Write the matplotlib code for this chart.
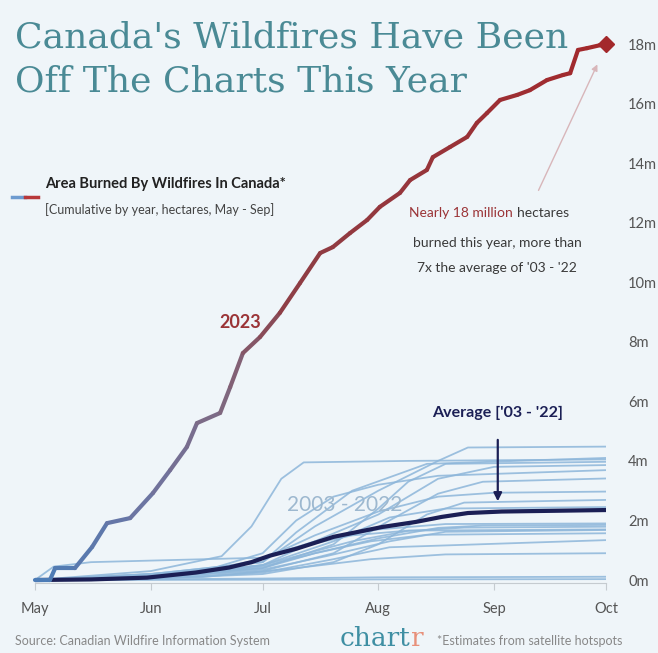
import numpy as np
import matplotlib.pyplot as plt
from matplotlib.collections import LineCollection
from matplotlib.colors import LinearSegmentedColormap

# days since May 1 (Jun 1 = 31, Jul 1 = 61, Aug 1 = 92, Sep 1 = 123, Oct 1 = 153)
month_days = [0, 31, 61, 92, 123, 153]
month_labels = ["May", "Jun", "Jul", "Aug", "Sep", "Oct"]
y_ticks = [0, 2, 4, 6, 8, 10, 12, 14, 16, 18]
y_labels = ["0m", "2m", "4m", "6m", "8m", "10m", "12m", "14m", "16m", "18m"]

# 2023 cumulative area burned (million ha)
days_2023 = [0, 4, 5.4, 10.7, 15.3, 19.3, 25.5, 31.6, 36.2, 40.7, 43.4, 49.6, 52.3, 55.7,
             60.3, 65.6, 71.0, 76.4, 79.8, 84.4, 89.0, 92.4, 97.8, 100.5, 105.0, 106.6,
             111.2, 115.8, 118.4, 121.1, 124.6, 129.2, 132.6, 137.2, 141.5, 143.4, 145.5,
             147.9, 151.4, 153]
vals_2023 = [0, 0, 0.40, 0.40, 1.11, 1.91, 2.08, 2.92, 3.69, 4.47, 5.27, 5.61, 6.48, 7.62,
             8.16, 8.97, 9.97, 10.98, 11.18, 11.65, 12.09, 12.53, 13.0, 13.43, 13.77, 14.20,
             14.54, 14.88, 15.35, 15.68, 16.12, 16.29, 16.45, 16.79, 16.96, 17.02, 17.80,
             17.86, 17.96, 18.0]

# average 2003-2022
days_avg = [0, 15, 30, 43, 52, 58, 63, 70, 80, 93, 102, 109, 116, 125, 153]
vals_avg = [0, 0.02, 0.08, 0.25, 0.42, 0.6, 0.82, 1.05, 1.45, 1.78, 1.95, 2.12, 2.25, 2.3, 2.35]

# individual years 2003-2022 (rough traces)
years_days = [
    [0, 31, 61, 75, 92, 108, 116, 153],
    [0, 31, 50, 58, 66, 72, 100, 153],
    [0, 31, 61, 80, 92, 100, 110, 153],
    [0, 31, 61, 75, 92, 108, 123, 153],
    [0, 45, 61, 70, 80, 92, 108, 153],
    [0, 31, 61, 80, 95, 108, 120, 153],
    [0, 40, 61, 75, 92, 108, 123, 153],
    [0, 31, 61, 80, 92, 105, 115, 153],
    [0, 5, 15, 61, 75, 92, 110, 153],
    [0, 31, 61, 75, 92, 108, 120, 153],
    [0, 45, 61, 85, 100, 115, 153],
    [0, 31, 55, 70, 85, 100, 153],
    [0, 31, 61, 78, 95, 110, 153],
    [0, 40, 61, 75, 90, 105, 153],
    [0, 31, 61, 80, 95, 153],
    [0, 45, 70, 90, 110, 153],
    [0, 61, 92, 153],
    [0, 61, 92, 153],
    [0, 31, 61, 80, 95, 110, 153],
    [0, 31, 61, 70, 85, 105, 153],
]
years_vals = [
    [0, 0.2, 0.6, 1.8, 3.0, 4.0, 4.45, 4.48],
    [0, 0.3, 0.8, 1.8, 3.4, 3.95, 4.0, 4.05],
    [0, 0.1, 0.4, 1.2, 2.4, 3.3, 3.9, 3.97],
    [0, 0.15, 0.5, 1.3, 2.2, 3.4, 3.8, 3.86],
    [0, 0.3, 0.9, 2.0, 2.8, 3.2, 3.5, 3.69],
    [0, 0.1, 0.3, 0.9, 2.0, 2.9, 3.3, 3.41],
    [0, 0.2, 0.7, 1.5, 2.3, 2.8, 2.93, 2.97],
    [0, 0.05, 0.2, 0.6, 1.2, 2.2, 2.6, 2.69],
    [0, 0.45, 0.6, 0.75, 1.3, 1.7, 1.88, 1.9],
    [0, 0.1, 0.4, 0.9, 1.4, 1.75, 1.83, 1.85],
    [0, 0.2, 0.5, 1.3, 1.65, 1.76, 1.79],
    [0, 0.15, 0.5, 1.1, 1.5, 1.66, 1.7],
    [0, 0.1, 0.35, 0.8, 1.3, 1.62, 1.68],
    [0, 0.2, 0.45, 0.9, 1.3, 1.52, 1.57],
    [0, 0.05, 0.25, 0.7, 1.1, 1.34],
    [0, 0.1, 0.4, 0.7, 0.86, 0.9],
    [0, 0.05, 0.09, 0.11],
    [0, 0.01, 0.02, 0.03],
    [0, 0.1, 0.5, 1.3, 2.1, 2.4, 2.45],
    [0, 0.2, 0.6, 1.6, 3.0, 3.9, 4.1],
]

BG = "#eff5f9"
TEAL = "#4a8a95"
RED = "#a3282b"
NAVY = "#1b1f55"
GREY = "#555555"


def main():
    fig = plt.figure(figsize=(6.58, 6.53), dpi=100, facecolor=BG)
    ax = fig.add_axes([35 / 658, 70 / 653, 571 / 658, 539 / 653])
    ax.set_facecolor(BG)

    # individual years
    for d, v in zip(years_days, years_vals):
        ax.plot(d, v, color="#8db6da", lw=1.3, alpha=0.85, zorder=2, solid_capstyle="round")

    # average
    ax.plot(days_avg, vals_avg, color=NAVY, lw=3, zorder=4, solid_capstyle="round")

    # 2023 line with colour gradient
    pts = np.column_stack([days_2023, vals_2023]).reshape(-1, 1, 2)
    segs = np.concatenate([pts[:-1], pts[1:]], axis=1)
    cmap = LinearSegmentedColormap.from_list(
        "fire", [(0, "#4a7db8"), (0.2, "#6f74a0"), (0.33, "#7f6880"), (0.45, "#8e3d45"), (1, RED)])
    mids = (np.array(days_2023[:-1]) + np.array(days_2023[1:])) / 2 / 153
    lc = LineCollection(segs, colors=cmap(mids), linewidths=3, capstyle="round", joinstyle="round",
                        zorder=5, clip_on=False)
    ax.add_collection(lc)
    ax.plot(days_2023[-1], vals_2023[-1], marker="D", ms=8, color=RED, zorder=6, clip_on=False)

    ax.set_xlim(0, 153)
    ax.set_ylim(-0.1, 18)

    for s in ["top", "left", "right"]:
        ax.spines[s].set_visible(False)
    ax.spines["bottom"].set_color("#c5cbd0")
    ax.spines["bottom"].set_linewidth(0.8)

    ax.set_xticks(month_days)
    ax.set_xticklabels(month_labels, fontsize=10.5, color=GREY, family="Lato")
    ax.tick_params(axis="x", length=5, color="#c5cbd0", pad=9)
    ax.yaxis.tick_right()
    ax.set_yticks(y_ticks)
    ax.set_yticklabels(y_labels, fontsize=10.5, color=GREY, family="Lato")
    ax.tick_params(axis="y", length=0, pad=16)

    # labels inside the chart
    ax.text(55, 8.65, "2023", color="#9b3437", fontsize=13, fontweight="bold",
            ha="center", va="center", family="Lato")
    ax.text(83, 2.52, "2003 - 2022", color="#9db8cf", fontsize=15, ha="center", va="center",
            family="Lato", zorder=3)
    ax.text(124, 5.6, "Average ['03 - '22]", color=NAVY, fontsize=11.5, fontweight="bold",
            ha="center", va="center", family="Lato")
    ax.annotate("", xy=(124, 2.55), xytext=(124, 4.8),
                arrowprops=dict(arrowstyle="-|>", color=NAVY, lw=1.6, mutation_scale=12), zorder=6)

    ax.annotate("", xy=(151, 17.4), xytext=(134.6, 13.0),
                arrowprops=dict(arrowstyle="-|>", color="#d8b6ba", lw=1, mutation_scale=9))
    red_part = ax.text(100.3, 12.19, "Nearly 18 million", color="#9b3437", fontsize=10,
                       ha="left", va="baseline", family="Lato")
    ax.annotate("hectares", xy=(1, 0), xycoords=red_part, xytext=(3, 0), textcoords="offset points",
                color="#3a3a3a", fontsize=10, ha="left", va="bottom", family="Lato")
    ax.text(123.8, 11.32, "burned this year, more than", color="#3a3a3a", fontsize=10,
            ha="center", va="center", family="Lato")
    ax.text(123.8, 10.48, "7x the average of '03 - '22", color="#3a3a3a", fontsize=10,
            ha="center", va="center", family="Lato")

    # title
    fig.text(15 / 658, 1 - 38 / 653, "Canada's Wildfires Have Been", color=TEAL, fontsize=26,
             family="DejaVu Serif", va="center", ha="left")
    fig.text(15 / 658, 1 - 82 / 653, "Off The Charts This Year", color=TEAL, fontsize=26,
             family="DejaVu Serif", va="center", ha="left")

    # legend
    fig.lines.append(plt.Line2D([12 / 658, 25 / 658], [1 - 197 / 653] * 2, color="#6d9bd0", lw=2.5,
                                transform=fig.transFigure))
    fig.lines.append(plt.Line2D([25 / 658, 38 / 658], [1 - 197 / 653] * 2, color="#b8383a", lw=2.5,
                                transform=fig.transFigure))
    fig.text(45 / 658, 1 - 184 / 653, "Area Burned By Wildfires In Canada*", color="#222222",
             fontsize=10.5, fontweight="bold", va="center", family="Lato")
    fig.text(45 / 658, 1 - 210 / 653, "[Cumulative by year, hectares, May - Sep]", color="#444444",
             fontsize=9, va="center", family="Lato")

    # footer
    fig.text(15 / 658, 1 - 641 / 653, "Source: Canadian Wildfire Information System", color="#888888",
             fontsize=9, va="center", family="Lato")
    logo = fig.text(340 / 658, 1 - 646 / 653, "chart", color="#3f8fa3", fontsize=19, va="baseline",
                    family="DejaVu Serif")
    ax.annotate("r", xy=(1, 0), xycoords=logo, xytext=(0, 0), textcoords="offset points",
                color="#e8907a", fontsize=19, va="bottom", ha="left", family="DejaVu Serif",
                annotation_clip=False)
    fig.text(437 / 658, 1 - 641 / 653, "*Estimates from satellite hotspots", color="#888888",
             fontsize=9, va="center", family="Lato")

    fig.savefig("out.png", dpi=100, facecolor=BG)


if __name__ == "__main__":
    main()
